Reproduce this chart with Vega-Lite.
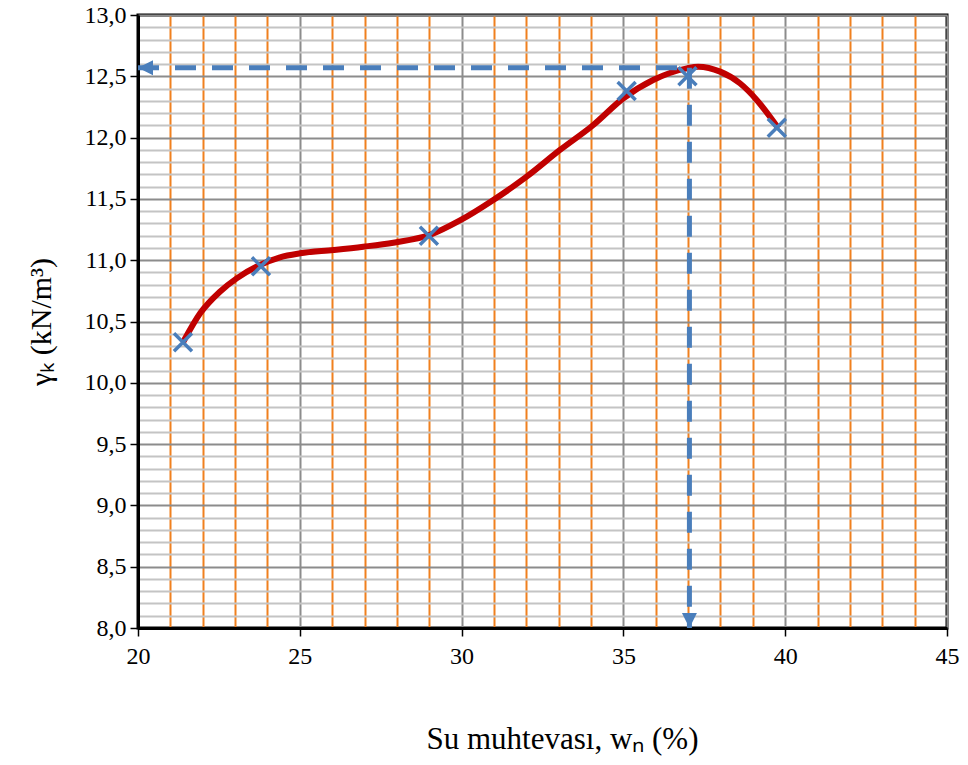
{
  "$schema": "https://vega.github.io/schema/vega-lite/v6.json",
  "width": 809,
  "height": 613,
  "autosize": {"type": "none"},
  "padding": {"left": 138, "top": 15, "right": 21, "bottom": 137},
  "background": "white",
  "config": {
    "view": {"stroke": "black", "strokeWidth": 3},
    "font": "Liberation Serif",
    "axis": {
      "labelFont": "Liberation Serif", "labelFontSize": 24, "labelColor": "black",
      "labelOverlap": false, "labelFlush": false,
      "grid": true, "gridWidth": 2,
      "domainColor": "black", "domainWidth": 3,
      "tickColor": "black", "tickWidth": 1.5, "tickSize": 8,
      "titleFont": "Liberation Serif", "titleFontWeight": "normal", "titleColor": "black"
    }
  },
  "datasets": {
    "curve": [
      {"x": 21.40, "y": 10.335}, {"x": 21.92, "y": 10.567}, {"x": 22.53, "y": 10.743},
      {"x": 23.05, "y": 10.852}, {"x": 23.77, "y": 10.961}, {"x": 24.39, "y": 11.024},
      {"x": 25.01, "y": 11.056}, {"x": 26.04, "y": 11.083}, {"x": 26.96, "y": 11.110},
      {"x": 27.89, "y": 11.143}, {"x": 29.02, "y": 11.206}, {"x": 29.95, "y": 11.324},
      {"x": 30.98, "y": 11.491}, {"x": 32.01, "y": 11.681}, {"x": 33.04, "y": 11.899},
      {"x": 34.07, "y": 12.103}, {"x": 35.00, "y": 12.321}, {"x": 35.92, "y": 12.470},
      {"x": 36.96, "y": 12.565}, {"x": 37.31, "y": 12.578}, {"x": 37.99, "y": 12.538},
      {"x": 38.60, "y": 12.443}, {"x": 39.12, "y": 12.307}, {"x": 39.53, "y": 12.170},
      {"x": 39.79, "y": 12.076}
    ],
    "points": [
      {"x": 21.39, "y": 10.33}, {"x": 23.8, "y": 10.95}, {"x": 28.99, "y": 11.2},
      {"x": 35.1, "y": 12.38}, {"x": 36.98, "y": 12.5}, {"x": 39.74, "y": 12.08}
    ],
    "hguide": [{"x": 20, "x2": 37.04, "y": 12.57}],
    "vguide": [{"x": 37.04, "y": 12.57, "y2": 8.0}],
    "arrows": [{"x": 20, "y": 12.57, "dir": "left"}, {"x": 37.04, "y": 8.0, "dir": "down"}]
  },
  "encoding": {
    "x": {
      "field": "x", "type": "quantitative",
      "scale": {"domain": [20, 45], "nice": false, "zero": false},
      "axis": {
        "values": [20,21,22,23,24,25,26,27,28,29,30,31,32,33,34,35,36,37,38,39,40,41,42,43,44,45],
        "labelExpr": "datum.value % 5 === 0 ? datum.label : ''",
        "labelFlush": false,
        "labelPadding": 8,
        "gridColor": {"condition": {"test": "datum.value % 5 === 0", "value": "#8C8C8C"}, "value": "#F0801E"},
        "tickOpacity": {"condition": {"test": "datum.value % 5 === 0", "value": 1}, "value": 0},
        "title": "Su muhtevası, wₙ (%)",
        "titleFontSize": 31,
        "titleX": 424, "titlePadding": 56
      }
    },
    "y": {
      "field": "y", "type": "quantitative",
      "scale": {"domain": [8, 13], "nice": false, "zero": false},
      "axis": {
        "values": [8,8.1,8.2,8.3,8.4,8.5,8.6,8.7,8.8,8.9,9,9.1,9.2,9.3,9.4,9.5,9.6,9.7,9.8,9.9,10,10.1,10.2,10.3,10.4,10.5,10.6,10.7,10.8,10.9,11,11.1,11.2,11.3,11.4,11.5,11.6,11.7,11.8,11.9,12,12.1,12.2,12.3,12.4,12.5,12.6,12.7,12.8,12.9,13],
        "labelExpr": "round(datum.value*10) % 5 === 0 ? replace(format(datum.value, '.1f'), '.', ',') : ''",
        "labelFlush": false,
        "labelPadding": 4,
        "gridColor": {"condition": {"test": "round(datum.value*10) % 5 === 0", "value": "#8C8C8C"}, "value": "#C4C4C4"},
        "tickOpacity": {"condition": {"test": "round(datum.value*10) % 5 === 0", "value": 1}, "value": 0},
        "title": "γₖ   (kN/m³)",
        "titleFontSize": 30,
        "titlePadding": 28
      }
    }
  },
  "layer": [
    {
      "data": {"name": "curve"},
      "mark": {"type": "line", "color": "#C00000", "strokeWidth": 6, "interpolate": "monotone"}
    },
    {
      "data": {"name": "hguide"},
      "mark": {"type": "rule", "color": "#4A7EBB", "strokeWidth": 5, "strokeDash": [21, 16]},
      "encoding": {
        "x2": {"field": "x2"}
      }
    },
    {
      "data": {"name": "vguide"},
      "mark": {"type": "rule", "color": "#4A7EBB", "strokeWidth": 5, "strokeDash": [21, 16]},
      "encoding": {
        "y2": {"field": "y2"}
      }
    },
    {
      "data": {"name": "points"},
      "mark": {"type": "point", "filled": false, "stroke": "#4A7EBB", "strokeWidth": 3.5, "opacity": 1, "size": 324, "shape": "M -1 -1 L 1 1 M -1 1 L 1 -1"}
    },
    {
      "data": {"name": "arrows"},
      "mark": {"type": "point", "filled": true, "color": "#4A7EBB", "opacity": 1, "size": 225},
      "encoding": {
        "shape": {
          "field": "dir", "type": "nominal",
          "scale": {"domain": ["left", "down"], "range": ["M 0 0 L 2 -1 L 2 1 Z", "M 0 0 L -1 -2 L 1 -2 Z"]},
          "legend": null
        }
      }
    }
  ]
}
